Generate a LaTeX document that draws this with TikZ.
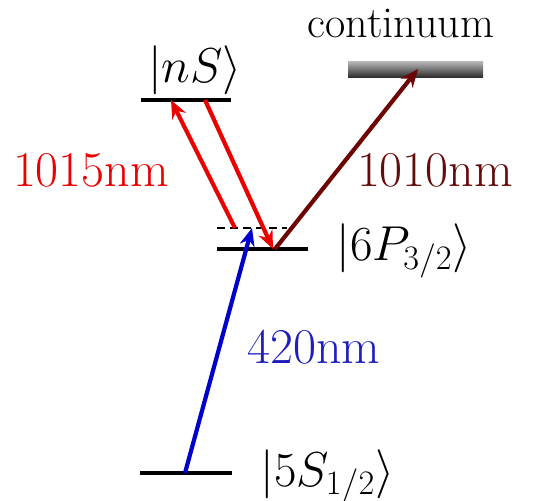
\RequirePackage{fix-cm}
\documentclass[tikz,border=0pt]{standalone}
\usetikzlibrary{arrows.meta}
\definecolor{myred}{RGB}{235,0,0}
\definecolor{myblue}{RGB}{0,0,205}
\definecolor{mydark}{RGB}{110,5,5}
\definecolor{mydarktext}{RGB}{100,10,10}
\definecolor{mybluetext}{RGB}{30,30,190}
\begin{document}
\begin{tikzpicture}[x=0.5pt,y=-0.5pt,
  level/.style={line width=2pt},
  trans/.style={line width=2.1pt,-{Stealth[length=9pt,width=7.5pt]}},
  lbl/.style={font=\fontsize{25}{30}\selectfont, inner sep=0pt},
  ket/.style={font=\fontsize{24.5}{29}\selectfont, inner sep=0pt}]
\useasboundingbox (0,0) rectangle (544,501);
% level endpoints
\coordinate (nsL) at (141,100);
\coordinate (nsR) at (231,100);
\coordinate (pL) at (217,249);
\coordinate (pR) at (308,249);
\coordinate (vL) at (217,228);
\coordinate (vR) at (287,228);
\coordinate (sL) at (140,473);
\coordinate (sR) at (232,473);
% levels
\draw[level] (nsL) -- (nsR);
\draw[level] (pL) -- (pR);
\draw[line width=1.4pt, dash pattern=on 4pt off 2.5pt] (vL) -- (vR);
\draw[level] (sL) -- (sR);
\shade[top color=gray!60, middle color=gray!25, bottom color=black!85] (348,62) rectangle (483,78);
\coordinate (cont) at (418,69);
% transition endpoints
\coordinate (bS) at (185,473);
\coordinate (bV) at (252,228);
\coordinate (rUa) at (235,228);
\coordinate (rUb) at (171,100);
\coordinate (rDa) at (205,100);
\coordinate (rDb) at (273,249);
\coordinate (dA) at (275,249);
% transitions
\draw[trans, myblue] (bS) -- (bV);
\draw[trans, myred] (rUa) -- (rUb);
\draw[trans, myred] (rDa) -- (rDb);
\draw[trans, mydark] (dA) -- (cont);
% labels
\node[ket, anchor=base] (nsk) at (195,83) {$|nS\rangle$};
\node[ket, anchor=base west] (pk) at (336,261) {$|6P_{3/2}\rangle$};
\node[ket, anchor=base west] (sk) at (260,486) {$|5S_{1/2}\rangle$};
\node[lbl, anchor=base, text=myred] (l1015) at (91,187) {1015nm};
\node[lbl, anchor=base, text=mydarktext] (l1010) at (435,187) {1010nm};
\node[lbl, anchor=base, text=mybluetext] (l420) at (314,363) {420nm};
\node[font=\fontsize{22}{26}\selectfont, inner sep=0pt, anchor=base] (ct) at (401,38) {continuum};
\end{tikzpicture}
\end{document}
